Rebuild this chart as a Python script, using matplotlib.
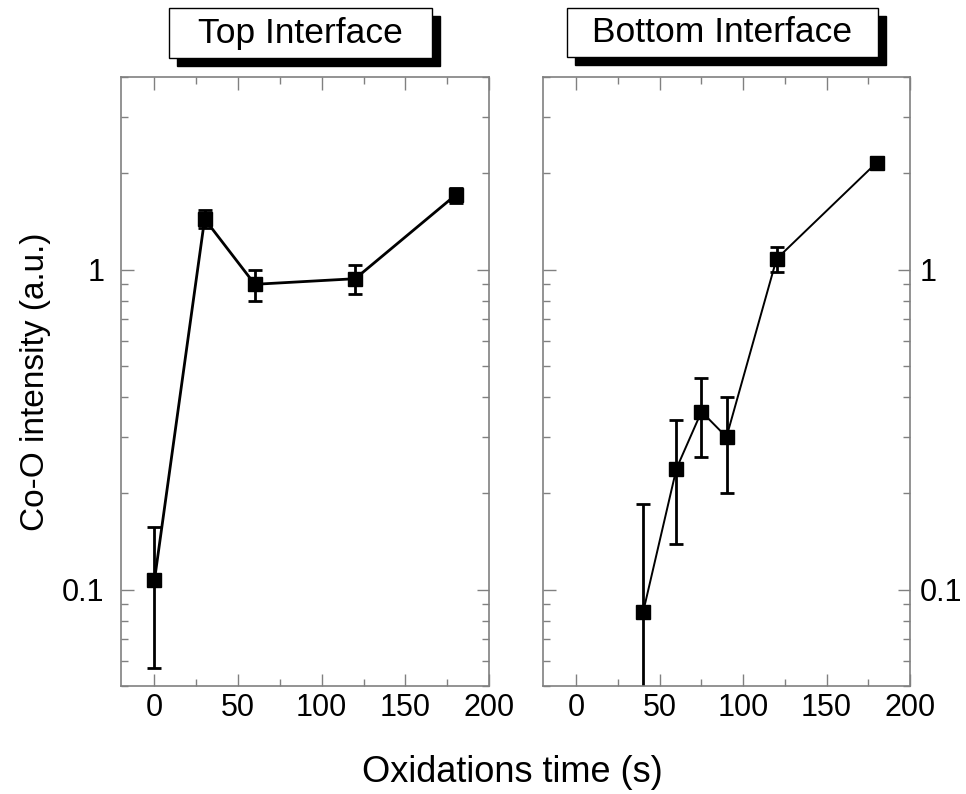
import numpy as np
import matplotlib
matplotlib.use('Agg')
import matplotlib.pyplot as plt
from matplotlib.patches import Rectangle
from matplotlib.ticker import MultipleLocator, LogLocator, NullFormatter, FixedLocator, FixedFormatter

plt.rcParams['font.family'] = ['Liberation Sans', 'DejaVu Sans']

# top interface
top_t = [0, 30, 60, 120, 180]
top_int = [0.107, 1.44, 0.90, 0.937, 1.71]
top_err = [0.05, 0.095, 0.10, 0.10, 0.095]

# bottom interface
bot_t = [40, 60, 75, 90, 120, 180]
bot_int = [0.085, 0.239, 0.36, 0.30, 1.08, 2.16]
bot_err = [0.10, 0.10, 0.10, 0.10, 0.095, 0.05]

titles = ['Top Interface', 'Bottom Interface']

fig = plt.figure(figsize=(9.66, 7.94), dpi=100)
W, H = 966, 794

def px_axes(x0, y0, x1, y1):
    return fig.add_axes([x0 / W, 1 - y1 / H, (x1 - x0) / W, (y1 - y0) / H])

ax1 = px_axes(121, 77, 489, 686)
ax2 = px_axes(543, 77, 910, 686)

spine_col = '#808080'

def style(ax, labels_right):
    ax.set_yscale('log')
    ax.set_xlim(-20, 200)
    ax.set_ylim(0.05, 4)
    ax.xaxis.set_major_locator(MultipleLocator(50))
    ax.xaxis.set_minor_locator(MultipleLocator(25))
    ax.yaxis.set_major_locator(FixedLocator([0.1, 1]))
    ax.yaxis.set_major_formatter(FixedFormatter(['0.1', '1']))
    ax.yaxis.set_minor_locator(LogLocator(base=10, subs=np.arange(2, 10)))
    ax.yaxis.set_minor_formatter(NullFormatter())
    for s in ax.spines.values():
        s.set_color(spine_col)
        s.set_linewidth(1.2)
    ax.tick_params(which='both', direction='in', top=True, right=True,
                   color=spine_col, width=1.0)
    ax.tick_params(which='major', length=9, labelsize=22)
    ax.tick_params(which='minor', length=5)
    ax.tick_params(axis='x', pad=5)
    if labels_right:
        ax.tick_params(axis='y', labelleft=False, labelright=True, pad=7)
    else:
        ax.tick_params(axis='y', pad=12)

def plot_series(ax, t, v, e, lw):
    v = np.array(v)
    e = np.array(e)
    lower = np.minimum(e, v * 0.999)
    ax.errorbar(t, v, yerr=[lower, e], fmt='s-', color='black', ms=9.5,
                lw=lw, elinewidth=2.0, capsize=5, capthick=2.0, clip_on=True)

style(ax1, False)
style(ax2, True)
plot_series(ax1, top_t, top_int, top_err, 2.0)
plot_series(ax2, bot_t, bot_int, bot_err, 1.4)

ax1.set_ylabel('Co-O intensity (a.u.)', fontsize=24, labelpad=8)
fig.text(512 / W, 1 - 772 / H, 'Oxidations time (s)', fontsize=26,
         ha='center', va='center')

# title boxes with drop shadow
boxes = [(169, 8, 432, 58), (567, 8, 878, 57)]
for (x0, y0, x1, y1), title in zip(boxes, titles):
    fig.patches.append(Rectangle(((x0 + 8) / W, 1 - (y1 + 8) / H),
                                 (x1 - x0) / W, (y1 - y0) / H,
                                 transform=fig.transFigure, facecolor='black',
                                 edgecolor='black', zorder=1))
    fig.patches.append(Rectangle((x0 / W, 1 - y1 / H),
                                 (x1 - x0) / W, (y1 - y0) / H,
                                 transform=fig.transFigure, facecolor='white',
                                 edgecolor='black', lw=1.0, zorder=2))
    fig.text((x0 + x1) / 2 / W, 1 - (y0 + y1) / 2 / H, title, fontsize=25.5,
             ha='center', va='center', zorder=3)

fig.savefig('out.png', dpi=100)
